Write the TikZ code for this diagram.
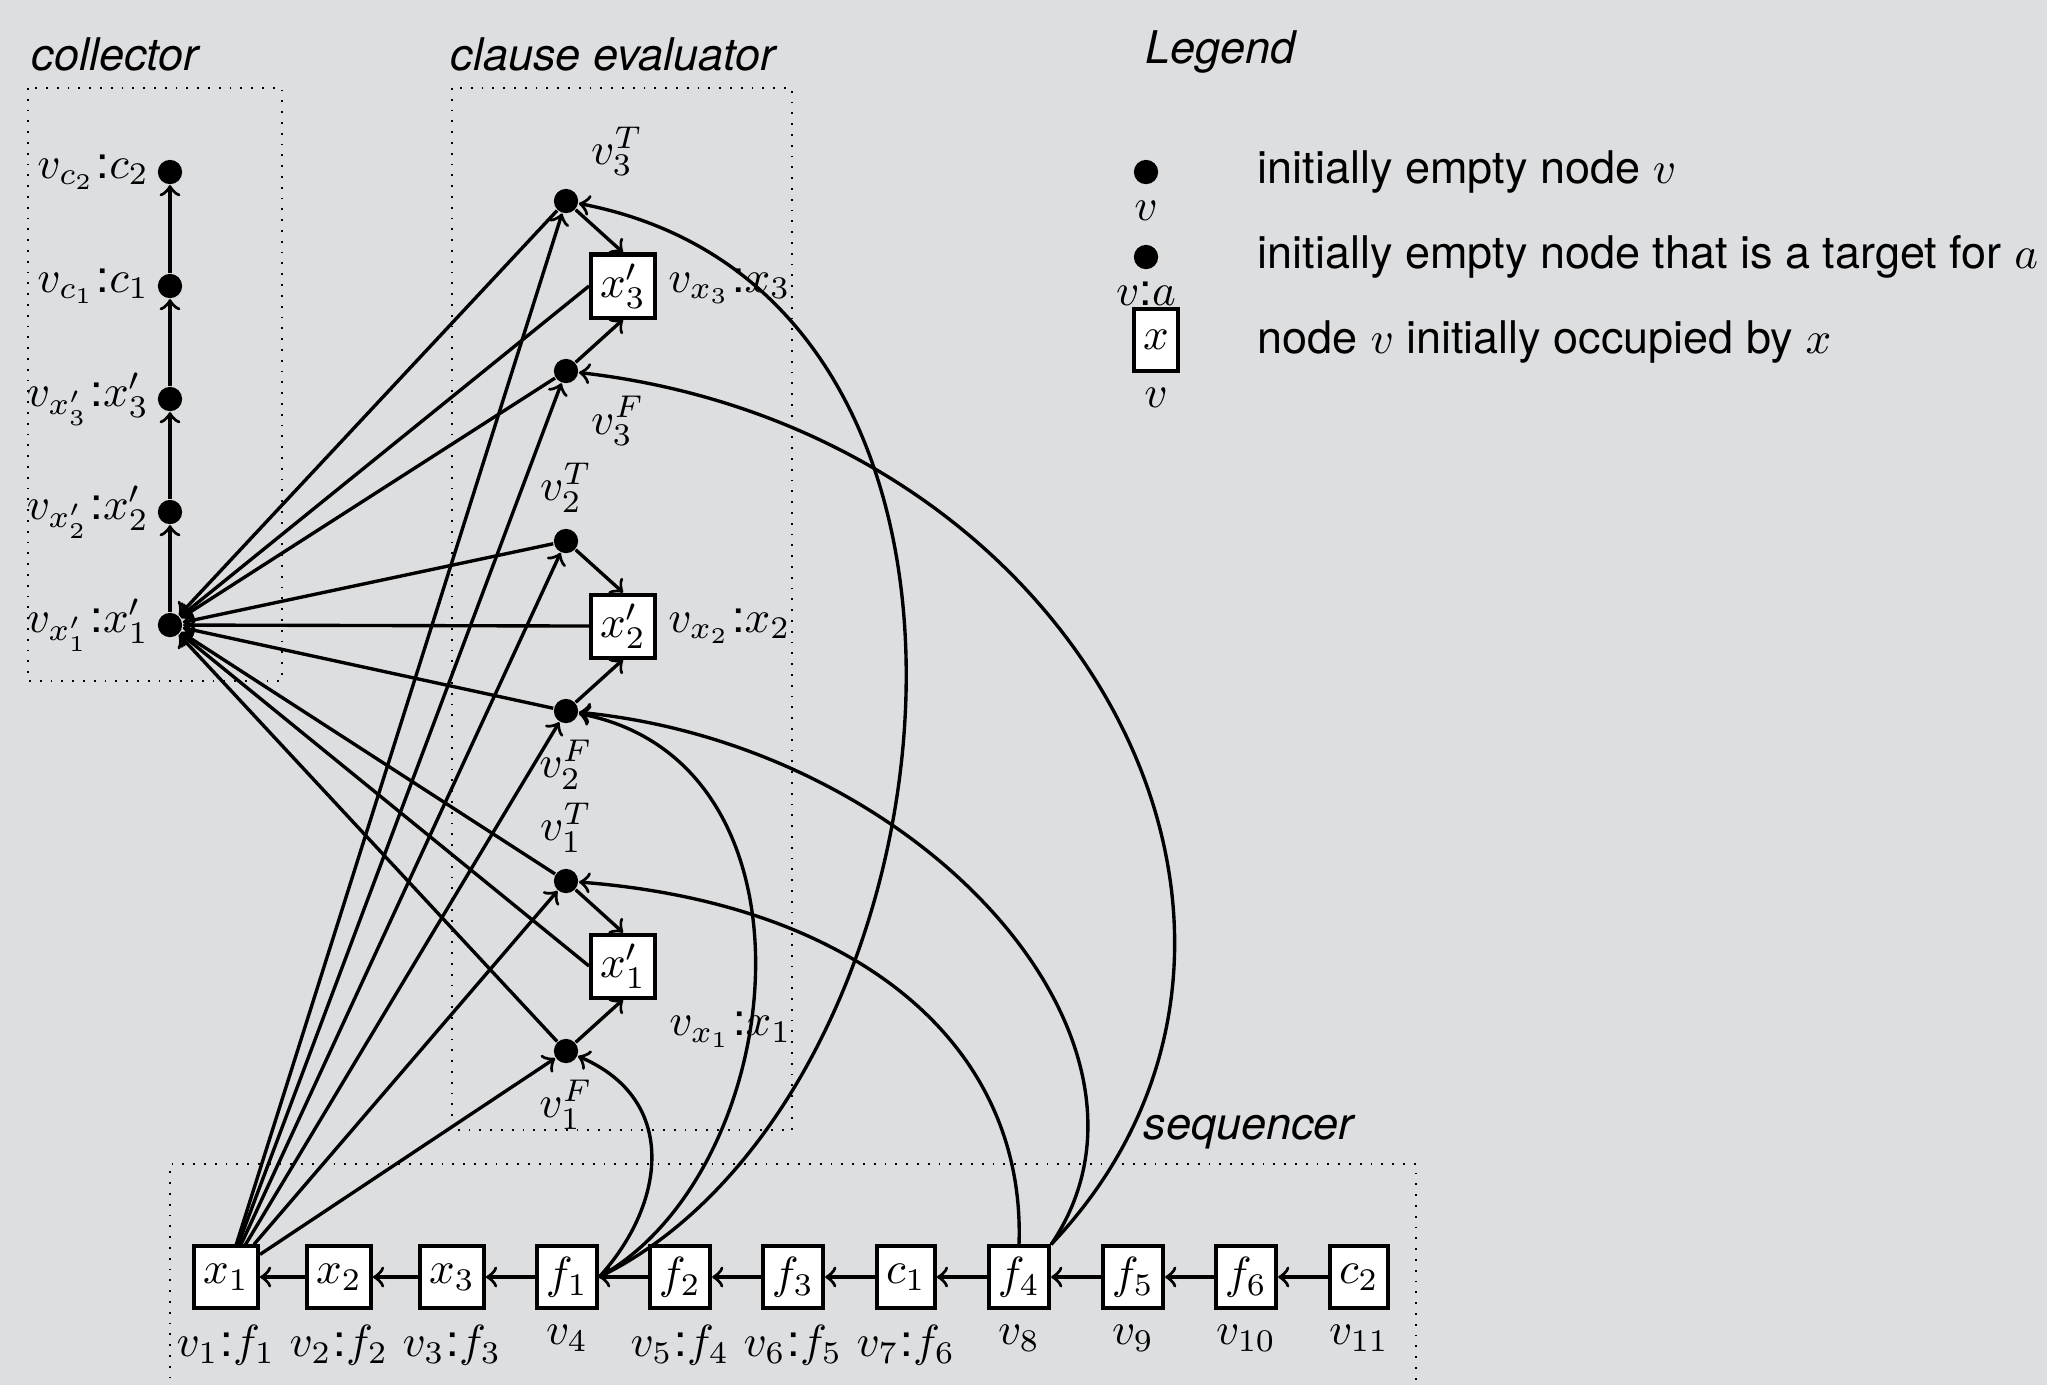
\documentclass[tikz,border=0pt]{standalone}
\usepackage{fontspec}
\setsansfont{TeX Gyre Heros}
\definecolor{bg}{RGB}{221,222,224}
\newcommand\cln{\kern0.4pt\textsf{:}}
\begin{document}
\begin{tikzpicture}[x=0.2222pt, y=-0.2222pt,
  dot/.style={circle, fill=black, inner sep=0pt, minimum size=5.4pt},
  tok/.style={draw, line width=0.9pt, fill=white, inner sep=2pt, minimum height=13.6pt},
  conn/.style={->, line width=0.75pt},
  region/.style={dotted, line width=0.4pt},
  title/.style={font=\sffamily\itshape, anchor=base west, inner sep=0pt},
  lgtext/.style={font=\sffamily, anchor=base west, inner sep=0pt},
  cl/.style={label distance=-1.8pt}]

\fill[bg] (0,0) rectangle (2047,1385);
\useasboundingbox (0,0) rectangle (2047,1385);

% regions
\draw[region] (28,88) rectangle (282,681);
\draw[region] (452,88) rectangle (792,1130);
\draw[region] (170,1400) |- (1416,1164) -- (1416,1400);

% titles
\node[title] (tcol) at (31,70) {collector};
\node[title] (tcl) at (450,70) {clause evaluator};
\node[title] (tleg) at (1145,63) {Legend};
\node[title] (tseq) at (1143,1139) {sequencer};

% collector
\node[dot, label={[cl]left:{$v_{c_2}$\cln$c_2$}}] (cc2) at (170,172) {};
\node[dot, label={[cl]left:{$v_{c_1}$\cln$c_1$}}] (cc1) at (170,286) {};
\node[dot, label={[cl]left:{$v_{x'_3}$\cln$x'_3$}}] (cx3) at (170,399) {};
\node[dot, label={[cl]left:{$v_{x'_2}$\cln$x'_2$}}] (cx2) at (170,512) {};
\node[dot, label={[cl]left:{$v_{x'_1}$\cln$x'_1$}}] (cx1) at (170,625) {};

% clause evaluator
\node[dot, label=above right:{$v_3^T$}] (v3T) at (566,201) {};
\node[tok, label={[label distance=-1pt]right:{$v_{x_3}$\cln$x_3$}}] (x3p) at (623,286) {$x'_3$};
\node[dot, label=below right:{$v_3^F$}] (v3F) at (566,371) {};
\node[dot, label=above:{$v_2^T$}] (v2T) at (566,541) {};
\node[tok, label={[label distance=-1pt]right:{$v_{x_2}$\cln$x_2$}}] (x2p) at (623,626) {$x'_2$};
\node[dot, label=below:{$v_2^F$}] (v2F) at (566,711) {};
\node[dot, label=above:{$v_1^T$}] (v1T) at (566,881) {};
\node[tok, label={[label distance=-1pt]below right:{$v_{x_1}$\cln$x_1$}}] (x1p) at (623,966) {$x'_1$};
\node[dot, label=below:{$v_1^F$}] (v1F) at (566,1051) {};

% sequencer
\node[tok, label=below:{$v_1$\cln$f_1$}] (sx1) at (226,1277) {$x_1$};
\node[tok, label=below:{$v_2$\cln$f_2$}] (sx2) at (339,1277) {$x_2$};
\node[tok, label=below:{$v_3$\cln$f_3$}] (sx3) at (452,1277) {$x_3$};
\node[tok, label=below:{$v_4$}] (sf1) at (567,1277) {$f_1$};
\node[tok, label=below:{$v_5$\cln$f_4$}] (sf2) at (680,1277) {$f_2$};
\node[tok, label=below:{$v_6$\cln$f_5$}] (sf3) at (793,1277) {$f_3$};
\node[tok, label=below:{$v_7$\cln$f_6$}] (sc1) at (906,1277) {$c_1$};
\node[tok, label=below:{$v_8$}] (sf4) at (1019,1277) {$f_4$};
\node[tok, label=below:{$v_9$}] (sf5) at (1133,1277) {$f_5$};
\node[tok, label=below:{$v_{10}$}] (sf6) at (1246,1277) {$f_6$};
\node[tok, label=below:{$v_{11}$}] (sc2) at (1359,1277) {$c_2$};

% legend
\node[dot, label=below:{$v$}] (ld1) at (1146,172) {};
\node[dot, label={[label distance=-1pt]below:{$v$\textsf{:}$a$}}] (ld2) at (1146,257) {};
\node[tok, label=below:{$v$}] (lb3) at (1156,340) {$x$};
\node[lgtext] (lt1) at (1257,183) {initially empty node $v$};
\node[lgtext] (lt2) at (1257,268) {initially empty node that is a target for $a$};
\node[lgtext] (lt3) at (1257,353) {node $v$ initially occupied by $x$};

% collector chain
\draw[conn] (cx1) -- (cx2);
\draw[conn] (cx2) -- (cx3);
\draw[conn] (cx3) -- (cc1);
\draw[conn] (cc1) -- (cc2);

% clause internal
\draw[conn] (v3T) -- (x3p.north);
\draw[conn] (v3F) -- (x3p.south);
\draw[conn] (v2T) -- (x2p.north);
\draw[conn] (v2F) -- (x2p.south);
\draw[conn] (v1T) -- (x1p.north);
\draw[conn] (v1F) -- (x1p.south);

% clause to collector
\foreach \n in {v3T,v3F,v2T,v2F,v1T,v1F}
  \draw[conn] (\n) -- (cx1);
\foreach \n in {x3p,x2p,x1p}
  \draw[conn] (\n.west) -- (cx1);

% x1 to clause dots
\foreach \n in {v3T,v3F,v2T,v2F,v1T,v1F}
  \draw[conn] (sx1) -- (\n);

% sequencer chain
\draw[conn] (sx2) -- (sx1);
\draw[conn] (sx3) -- (sx2);
\draw[conn] (sf1) -- (sx3);
\draw[conn] (sf2) -- (sf1);
\draw[conn] (sf3) -- (sf2);
\draw[conn] (sc1) -- (sf3);
\draw[conn] (sf4) -- (sc1);
\draw[conn] (sf5) -- (sf4);
\draw[conn] (sf6) -- (sf5);
\draw[conn] (sc2) -- (sf6);

% curves from f1
\draw[conn] (sf1.east) .. controls (665,1205) and (680,1100) .. (v1F);
\draw[conn] (sf1.east) .. controls (789,1171) and (832,763) .. (v2F);
\draw[conn] (sf1.east) .. controls (961,1101) and (1060,296) .. (v3T);
% curves from f4
\draw[conn] (sf4.north) .. controls (1026,1047) and (861,904) .. (v1T);
\draw[conn] (sf4.north east) .. controls (1188,1043) and (923,746) .. (v2F);
\draw[conn] (sf4.north east) .. controls (1345,935) and (1085,431) .. (v3F);
\end{tikzpicture}
\end{document}
